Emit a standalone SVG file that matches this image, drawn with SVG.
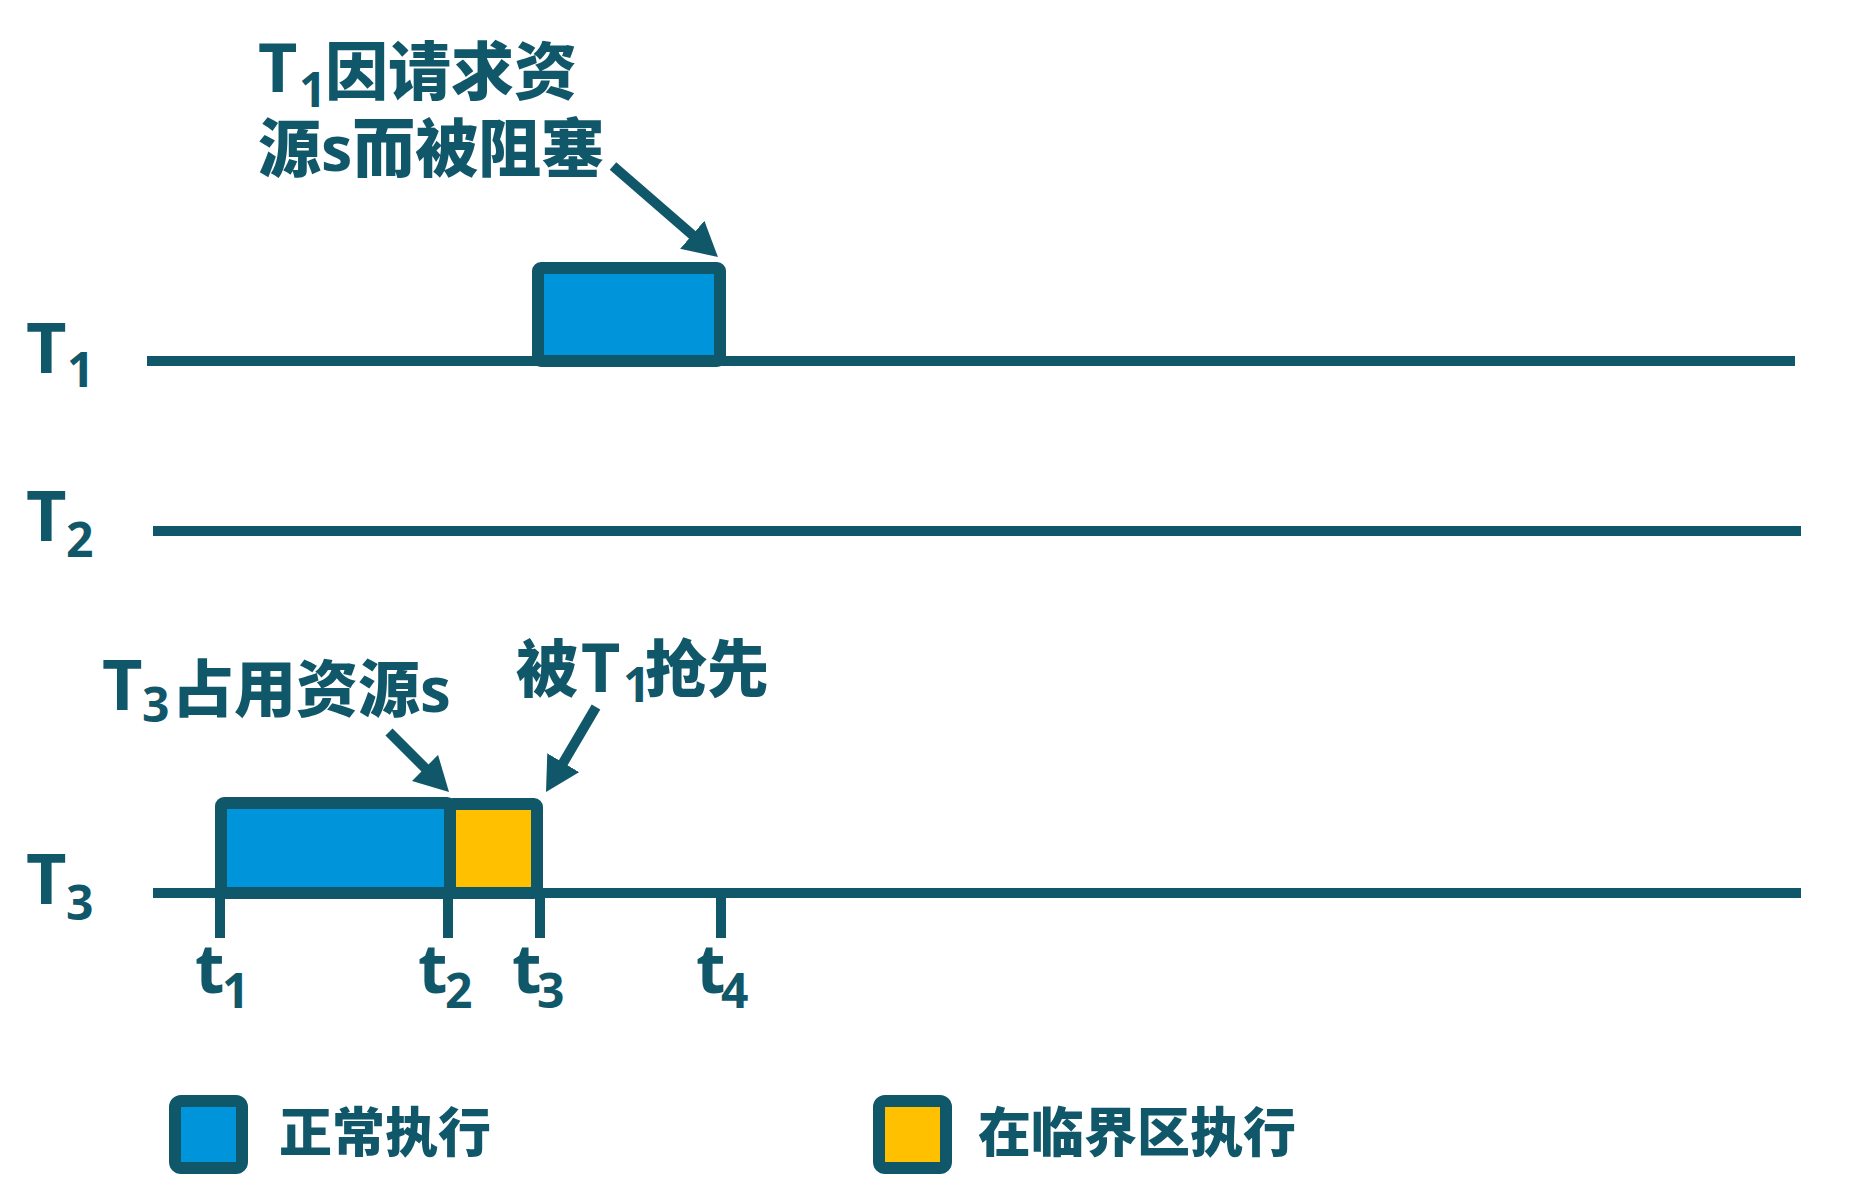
<svg xmlns="http://www.w3.org/2000/svg" width="1874" height="1203" viewBox="0 0 1874 1203">
<style>
.lbl{font-family:"Open Sans","Noto Sans CJK SC",sans-serif;font-weight:700;fill:#11576A}
.cjk{font-family:"Noto Sans CJK SC",sans-serif;font-weight:900;fill:#11576A}
.axis{stroke:#11576A;stroke-width:10;fill:none}
.box{stroke:#11576A;stroke-width:12;stroke-linejoin:round}
.blue{fill:#0094DB}
.yellow{fill:#FFC000}
.arrow{stroke:#11576A;stroke-width:10;fill:none;marker-end:url(#head)}
</style>
<defs>
<marker id="head" viewBox="0 0 10 10" refX="1.76" refY="5" markerWidth="3.4" markerHeight="3.7" markerUnits="strokeWidth" orient="auto" preserveAspectRatio="none">
<path d="M0,0 L10,5 L0,10 z" fill="#11576A"/>
</marker>
</defs>
<rect width="1874" height="1203" fill="#FFFFFF"/>

<g id="timelines">
<line class="axis" x1="147" y1="361" x2="1795" y2="361"/>
<line class="axis" x1="153" y1="531" x2="1801" y2="531"/>
<line class="axis" x1="153" y1="893" x2="1801" y2="893"/>
<line class="axis" x1="220" y1="893" x2="220" y2="938"/>
<line class="axis" x1="448" y1="893" x2="448" y2="938"/>
<line class="axis" x1="540" y1="893" x2="540" y2="938"/>
<line class="axis" x1="721" y1="893" x2="721" y2="938"/>
</g>

<g id="row-labels">
<text class="lbl" x="26" y="373" font-size="70">T<tspan x="67" y="387" font-size="48">1</tspan></text>
<text class="lbl" x="26" y="541" font-size="70">T<tspan x="66" y="557" font-size="48">2</tspan></text>
<text class="lbl" x="26" y="904" font-size="70">T<tspan x="66" y="920" font-size="48">3</tspan></text>
</g>

<g id="time-labels">
<text class="lbl" x="195" y="993" font-size="68">t<tspan x="222" y="1008" font-size="48">1</tspan></text>
<text class="lbl" x="418" y="993" font-size="68">t<tspan x="445" y="1008" font-size="48">2</tspan></text>
<text class="lbl" x="512" y="993" font-size="68">t<tspan x="537" y="1008" font-size="48">3</tspan></text>
<text class="lbl" x="696" y="993" font-size="68">t<tspan x="721" y="1008" font-size="48">4</tspan></text>
</g>

<g id="t1-block">
<rect class="box blue" x="538" y="268" width="182" height="93" rx="3"/>
</g>

<g id="t3-normal">
<rect class="box blue" x="221" y="803" width="229" height="90" rx="3"/>
</g>
<g id="t3-critical">
<rect class="box yellow" x="450" y="804" width="87" height="89" rx="3"/>
</g>

<g id="note-t1-blocked">
<text class="lbl" x="258" y="92" font-size="68">T<tspan x="299" y="107" font-size="48">1</tspan><tspan class="cjk" x="325" y="94" font-size="63">因请求资</tspan></text>
<text class="lbl" x="258" y="171" font-size="63"><tspan class="cjk">源</tspan>s<tspan class="cjk">而被阻塞</tspan></text>
</g>

<g id="note-t3-holds">
<text class="lbl" x="102" y="710" font-size="70">T<tspan x="142" y="722" font-size="48">3</tspan><tspan x="172" y="712" font-size="62"><tspan class="cjk">占用资源</tspan>s</tspan></text>
</g>

<g id="note-preempted">
<text class="lbl" x="516" y="692" font-size="62"><tspan class="cjk">被</tspan><tspan x="581" font-size="68">T</tspan><tspan x="623" y="702" font-size="48">1</tspan><tspan class="cjk" x="645" y="692">抢先</tspan></text>
</g>

<g id="connectors">
<line class="arrow" x1="613" y1="166" x2="696.8" y2="238.7"/>
<line class="arrow" x1="389" y1="732" x2="429.2" y2="772.2"/>
<line class="arrow" x1="596" y1="707" x2="560.2" y2="767.9"/>
</g>

<g id="legend-normal">
<rect class="box blue" x="175" y="1101" width="67" height="67" rx="6"/>
<text class="cjk" x="279" y="1152" font-size="53">正常执行</text>
</g>
<g id="legend-critical">
<rect class="box yellow" x="879" y="1101" width="67" height="67" rx="6"/>
<text class="cjk" x="978" y="1152" font-size="53">在临界区执行</text>
</g>
</svg>
